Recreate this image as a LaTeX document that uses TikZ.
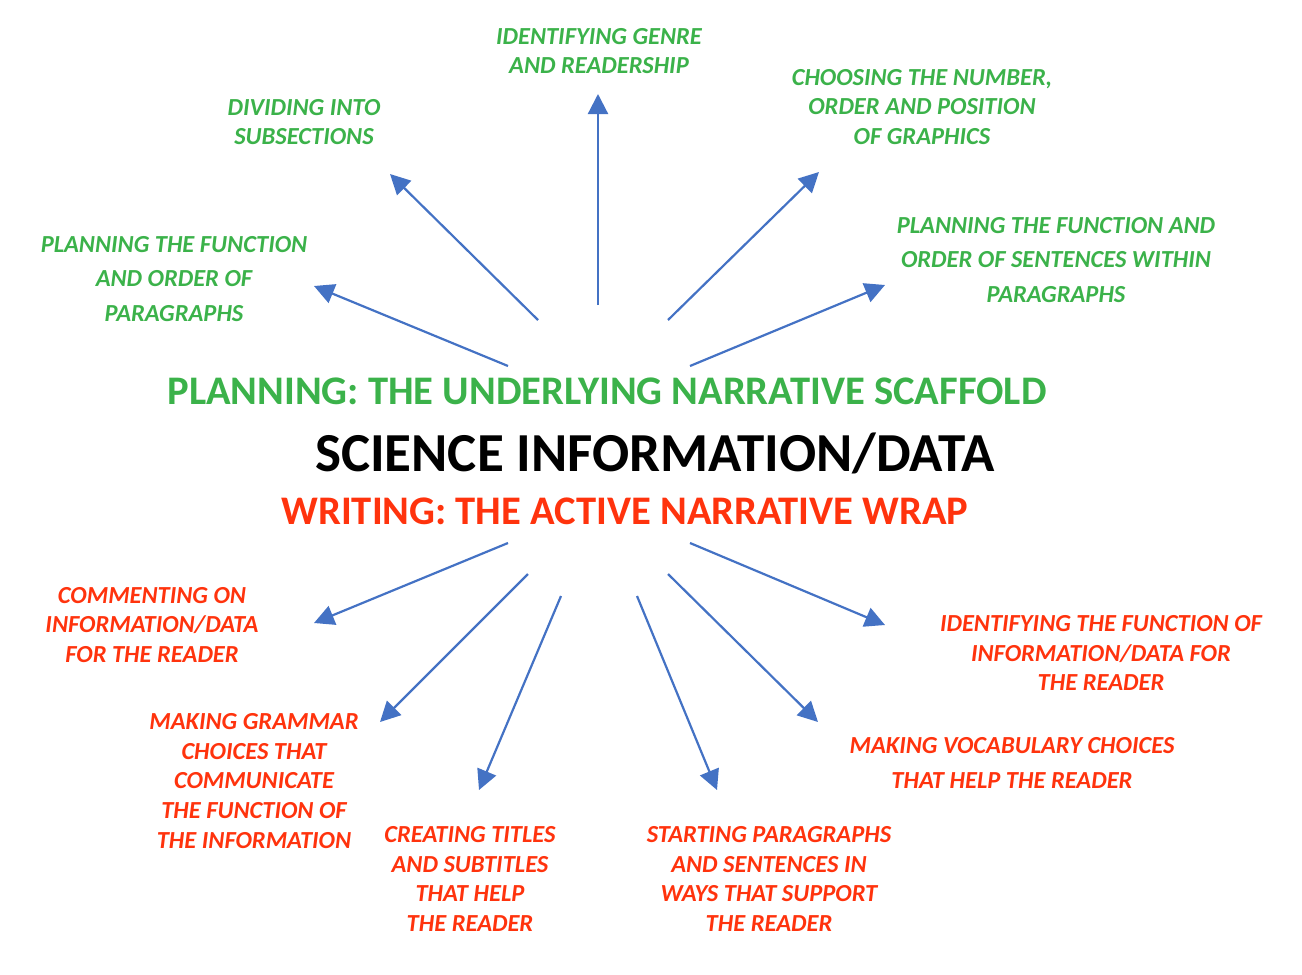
\documentclass[tikz,border=0pt]{standalone}
\usepackage{fontspec}
\setmainfont{Carlito}
\usetikzlibrary{arrows.meta}
\definecolor{plangreen}{RGB}{59,178,74}
\definecolor{writered}{RGB}{255,51,13}
\definecolor{arrowblue}{RGB}{68,114,196}
\begin{document}
\begin{tikzpicture}[x=1pt,y=-1pt,
  lbl/.style={align=center,font=\fontsize{24.5}{29.7}\selectfont\bfseries\itshape,inner sep=0pt},
  widelbl/.style={align=center,font=\fontsize{24.5}{34.5}\selectfont\bfseries\itshape,inner sep=0pt},
  plan/.style={text=plangreen},
  writ/.style={text=writered},
  link/.style={draw=arrowblue,line width=2.2pt,-{Triangle[length=20pt,width=20pt]}}]
\useasboundingbox (0,0) rectangle (1302,975);

% central headings
\node[inner sep=0pt,text=plangreen,font=\fontsize{40.6}{46}\selectfont\bfseries] (scaffold) at (607,391) {PLANNING: THE UNDERLYING NARRATIVE SCAFFOLD};
\node[inner sep=0pt,font=\fontsize{55}{62}\selectfont\bfseries] (data) at (655,453) {SCIENCE INFORMATION/DATA};
\node[inner sep=0pt,text=writered,font=\fontsize{40.6}{46}\selectfont\bfseries] (wrap) at (625,511) {WRITING: THE ACTIVE NARRATIVE WRAP};

% planning labels
\node[lbl,plan] (genre) at (599,51) {IDENTIFYING GENRE\\AND READERSHIP};
\node[lbl,plan] (subsec) at (304,122) {DIVIDING INTO\\SUBSECTIONS};
\node[lbl,plan] (graphics) at (922,107) {CHOOSING THE NUMBER,\\ORDER AND POSITION\\OF GRAPHICS};
\node[widelbl,plan] (sentences) at (1056,260) {PLANNING THE FUNCTION AND\\ORDER OF SENTENCES WITHIN\\PARAGRAPHS};
\node[widelbl,plan] (paras) at (174,279) {PLANNING THE FUNCTION\\AND ORDER OF\\PARAGRAPHS};

% writing labels
\node[lbl,writ] (comment) at (152,625) {COMMENTING ON\\INFORMATION/DATA\\FOR THE READER};
\node[lbl,writ] (function) at (1101,653) {IDENTIFYING THE FUNCTION OF\\INFORMATION/DATA FOR\\THE READER};
\node[lbl,writ] (grammar) at (254,781) {MAKING GRAMMAR\\CHOICES THAT\\COMMUNICATE\\THE FUNCTION OF\\THE INFORMATION};
\node[lbl,writ] (titles) at (470,879) {CREATING TITLES\\AND SUBTITLES\\THAT HELP\\THE READER};
\node[lbl,writ] (starting) at (769,879) {STARTING PARAGRAPHS\\AND SENTENCES IN\\WAYS THAT SUPPORT\\THE READER};
\node[widelbl,writ] (vocab) at (1012,763) {MAKING VOCABULARY CHOICES\\THAT HELP THE READER};

% arrow end points
\coordinate (s1) at (508,366); \coordinate (e1) at (314,286);
\coordinate (s2) at (538,320); \coordinate (e2) at (390,174);
\coordinate (s3) at (598,305); \coordinate (e3) at (598,94);
\coordinate (s4) at (668,320); \coordinate (e4) at (819,172);
\coordinate (s5) at (690,366); \coordinate (e5) at (885,285);
\coordinate (s6) at (508,543); \coordinate (e6) at (314,623);
\coordinate (s7) at (528,574); \coordinate (e7) at (380,722);
\coordinate (s8) at (561,596); \coordinate (e8) at (479,790);
\coordinate (s9) at (637,596); \coordinate (e9) at (717,790);
\coordinate (s10) at (668,574); \coordinate (e10) at (818,722);
\coordinate (s11) at (690,543); \coordinate (e11) at (885,625);

\foreach \i in {1,...,11} {\draw[link] (s\i) -- (e\i);}
\end{tikzpicture}
\end{document}
